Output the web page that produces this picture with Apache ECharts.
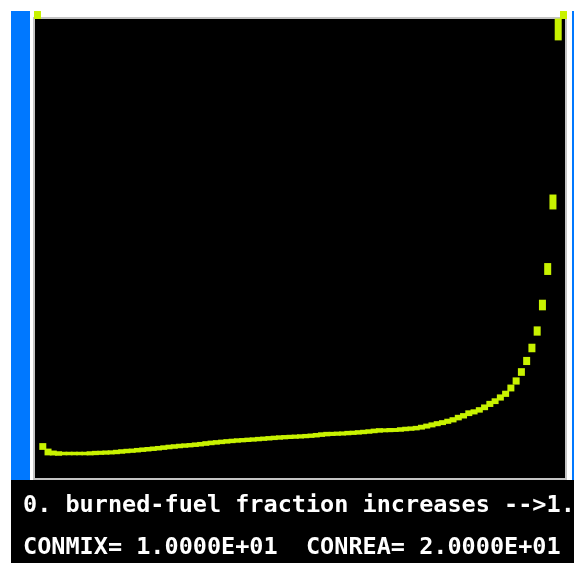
<!DOCTYPE html>
<html>
<head>
<meta charset="utf-8">
<script src="https://cdn.jsdelivr.net/npm/echarts@6/dist/echarts.min.js"></script>
<style>
html,body{margin:0;padding:0;background:#fff;}
#chart{width:574px;height:563px;}
</style>
</head>
<body>
<div id="chart"></div>
<script>
// burned-fuel fraction (x) — 0 .. 1
const fraction = [
  0.00,0.01,0.02,0.03,0.04,0.05,0.06,0.07,0.08,0.09,
  0.10,0.11,0.12,0.13,0.14,0.15,0.16,0.17,0.18,0.19,
  0.20,0.21,0.22,0.23,0.24,0.25,0.26,0.27,0.28,0.29,
  0.30,0.31,0.32,0.33,0.34,0.35,0.36,0.37,0.38,0.39,
  0.40,0.41,0.42,0.43,0.44,0.45,0.46,0.47,0.48,0.49,
  0.50,0.51,0.52,0.53,0.54,0.55,0.56,0.57,0.58,0.59,
  0.60,0.61,0.62,0.63,0.64,0.65,0.66,0.67,0.68,0.69,
  0.70,0.71,0.72,0.73,0.74,0.75,0.76,0.77,0.78,0.79,
  0.80,0.81,0.82,0.83,0.84,0.85,0.86,0.87,0.88,0.89,
  0.90,0.91,0.92,0.93,0.94,0.95,0.96,0.97,0.98,0.99,
  1.00
];
// plotted quantity (relative to top of frame = 1)
const rate = [
  1.0065,0.0705,0.0586,0.0564,0.0553,0.0553,0.0553,0.0553,0.0553,0.0553,
  0.0557,0.0564,0.0568,0.0573,0.0577,0.0586,0.0597,0.0607,0.0614,0.0625,
  0.0636,0.0646,0.0657,0.0668,0.0681,0.0694,0.0705,0.0716,0.0725,0.0733,
  0.0744,0.0755,0.0770,0.0783,0.0794,0.0805,0.0816,0.0826,0.0835,0.0842,
  0.0850,0.0857,0.0866,0.0874,0.0883,0.0892,0.0900,0.0907,0.0913,0.0918,
  0.0924,0.0931,0.0939,0.0950,0.0963,0.0974,0.0978,0.0983,0.0987,0.0996,
  0.1002,0.1011,0.1020,0.1030,0.1043,0.1054,0.1056,0.1061,0.1063,0.1074,
  0.1085,0.1093,0.1104,0.1124,0.1148,0.1174,0.1200,0.1223,0.1252,0.1284,
  0.1332,0.1371,0.1427,0.1456,0.1499,0.1555,0.1629,0.1688,0.1768,0.1848,
  0.1974,0.2126,0.2321,0.2560,0.2842,0.3210,0.3774,0.4555,0.6009,0.9751,
  1.0065
];
const captionLine1 = '0. burned-fuel fraction increases -->1.';
const captionLine2 = 'CONMIX= 1.0000E+01  CONREA= 2.0000E+01';

const W = 574, H = 563;
const GRID = {left: 34, top: 18, right: 8, bottom: 84};
const gridH = H - GRID.top - GRID.bottom;
const XMIN = -0.0067, XMAX = 1.0048;
const gridW = W - GRID.left - GRID.right;
const pxPerStep = 0.01 * gridW / (XMAX - XMIN);
const YMAX = 1;

const PEN = '#c8f200';
const FONT = 'bold 23.5px "DejaVu Sans Mono"';

function markerSize(val, p) {
  const i = p.dataIndex;
  if (val[1] > YMAX) return [7, 8];
  let j = i - 1;
  if (j < 0 || rate[j] > YMAX) j = i + 1;
  const s = Math.abs(rate[i] - rate[j]) * gridH / pxPerStep;
  return [7, Math.min(24, 3.5 + 3.2 * Math.sqrt(s))];
}

const chart = echarts.init(document.getElementById('chart'), null, {renderer: 'canvas'});
chart.setOption({
  animation: false,
  backgroundColor: '#ffffff',
  grid: {
    left: GRID.left, top: GRID.top, right: GRID.right, bottom: GRID.bottom,
    show: true, backgroundColor: '#000000', borderColor: '#c4c4c4', borderWidth: 2
  },
  xAxis: {
    type: 'value', min: XMIN, max: XMAX, show: false,
    splitLine: {show: false}
  },
  yAxis: {
    type: 'value', min: 0, max: YMAX, show: false,
    splitLine: {show: false}
  },
  graphic: [
    {type: 'rect', left: 11, top: 11, shape: {width: 19, height: 469}, style: {fill: '#0078ff'}, z: 100},
    {type: 'rect', left: 572, top: 11, shape: {width: 2, height: 469}, style: {fill: '#0078ff'}, z: 100},
    {type: 'rect', left: 11, top: 480, shape: {width: 563, height: 83}, style: {fill: '#000000'}, z: 100},
    {type: 'text', x: 23, y: 506, z: 101,
     style: {text: captionLine1, fill: '#ffffff', font: FONT, verticalAlign: 'middle', align: 'left'}},
    {type: 'text', x: 23, y: 548, z: 101,
     style: {text: captionLine2, fill: '#ffffff', font: FONT, verticalAlign: 'middle', align: 'left'}}
  ],
  series: [{
    type: 'scatter',
    data: fraction.map((f, i) => [f, rate[i]]),
    symbol: 'rect',
    symbolSize: markerSize,
    clip: false,
    itemStyle: {color: PEN, opacity: 1},
    emphasis: {disabled: true},
    silent: true
  }]
});
</script>
</body>
</html>
